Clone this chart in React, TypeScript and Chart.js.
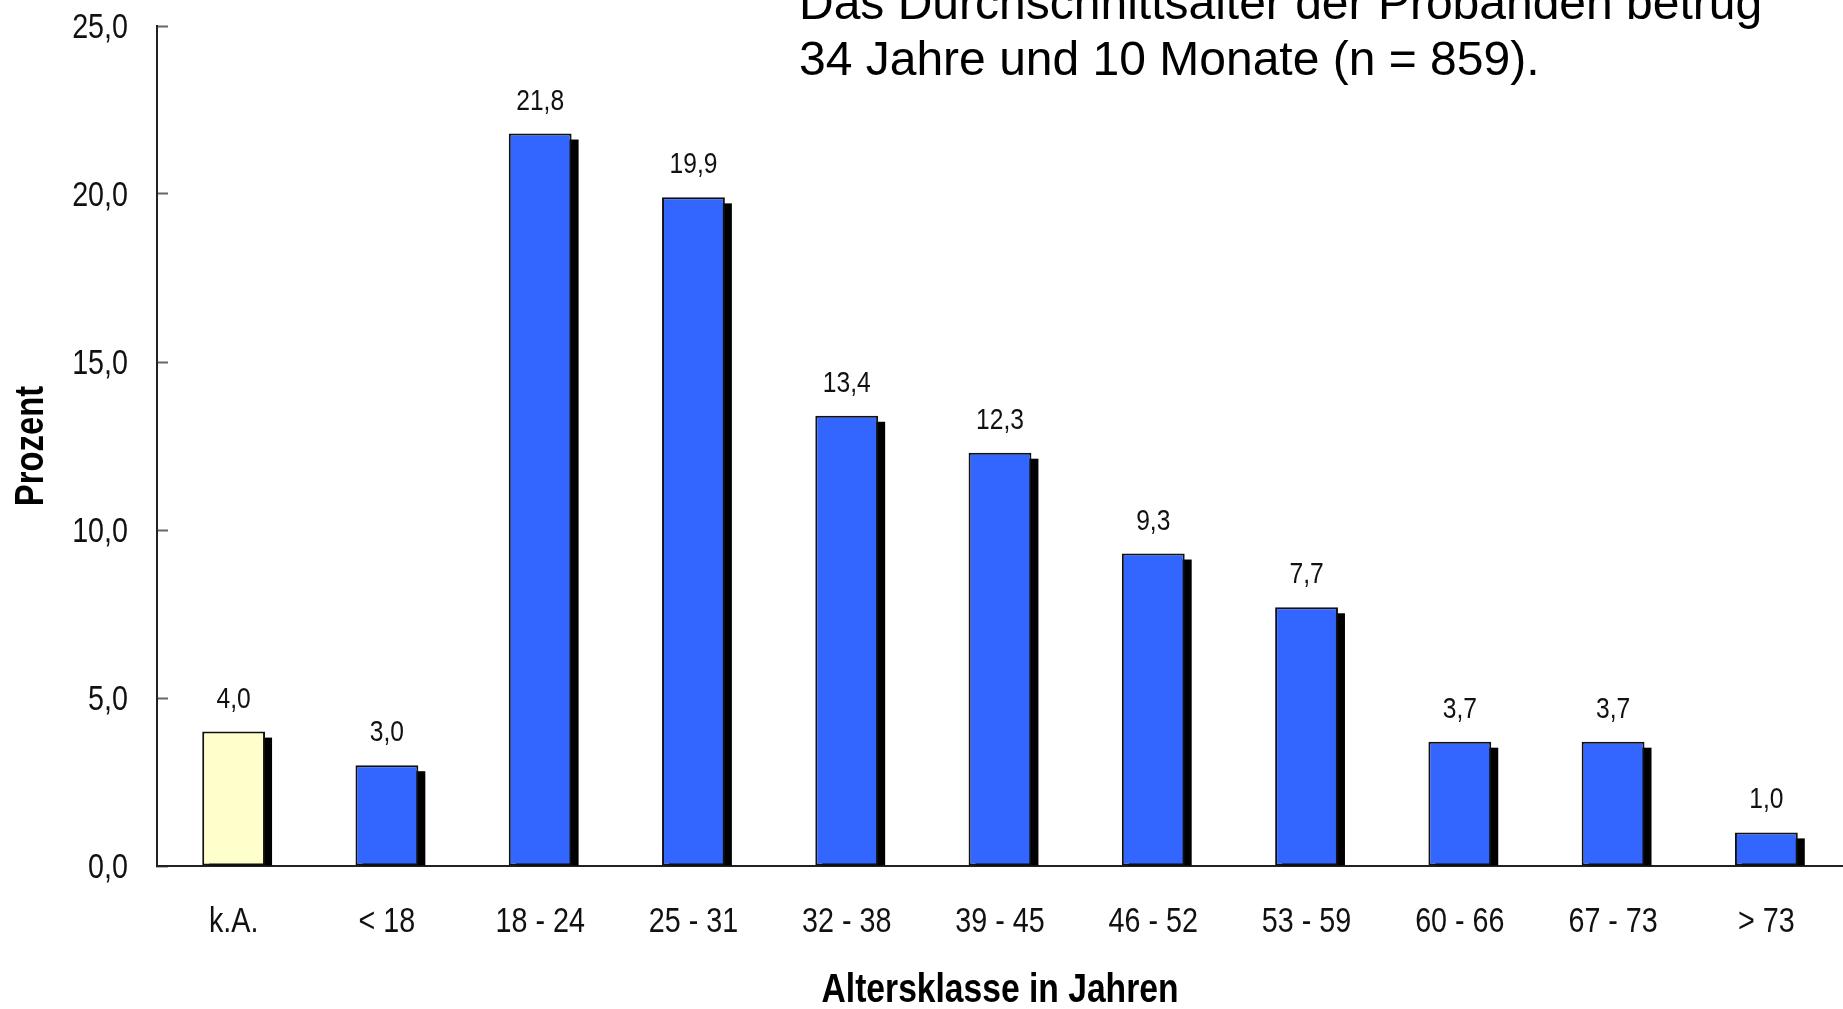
import React, { useEffect, useRef } from "react";
import { Chart, registerables } from "chart.js";

Chart.register(...registerables);

// ---- data ----
const categories = ["k.A.", "< 18", "18 - 24", "25 - 31", "32 - 38", "39 - 45", "46 - 52", "53 - 59", "60 - 66", "67 - 73", "> 73"];
const percentValues = [4.0, 3.0, 21.8, 19.9, 13.4, 12.3, 9.3, 7.7, 3.7, 3.7, 1.0];
const barColors = ["#FFFFCC", "#3366FF", "#3366FF", "#3366FF", "#3366FF", "#3366FF", "#3366FF", "#3366FF", "#3366FF", "#3366FF", "#3366FF"];
const yMin = 0;
const yMax = 25;
const yStep = 5;
const titleLines = ["Das Durchschnittsalter der Probanden betrug", "34 Jahre und 10 Monate (n = 859)."];
const yAxisTitle = "Prozent";
const xAxisTitle = "Altersklasse in Jahren";

const SANS = "'Liberation Sans', Arial, sans-serif";
const NARROW_X = 0.82; // horizontal condensing to mimic Arial Narrow

const fmt = (v: number) => v.toFixed(1).replace(".", ",");

function condensedText(
  ctx: CanvasRenderingContext2D,
  text: string,
  x: number,
  y: number,
  font: string,
  align: CanvasTextAlign,
  color: string,
  rotate = 0
) {
  ctx.save();
  ctx.font = font;
  ctx.fillStyle = color;
  ctx.textAlign = align;
  ctx.textBaseline = "alphabetic";
  ctx.translate(x, y);
  if (rotate) ctx.rotate(rotate);
  ctx.scale(NARROW_X, 1);
  ctx.fillText(text, 0, 0);
  ctx.restore();
}

const shadowPlugin = {
  id: "barShadow",
  beforeDatasetsDraw(chart: any) {
    const ctx = chart.ctx;
    const meta = chart.getDatasetMeta(0);
    ctx.save();
    ctx.fillStyle = "#000000";
    meta.data.forEach((bar: any) => {
      const { x, y, base, width } = bar.getProps(["x", "y", "base", "width"], true);
      const h = base - y - 6;
      if (h > 0) ctx.fillRect(x - width / 2 + 7, y + 6, width, h);
    });
    ctx.restore();
  },
};

const textPlugin = {
  id: "condensedTexts",
  afterDraw(chart: any) {
    const ctx = chart.ctx as CanvasRenderingContext2D;
    const xs = chart.scales.x;
    const ys = chart.scales.y;
    const area = chart.chartArea;
    const tickColor = "#111111";

    // value labels above bars
    const meta = chart.getDatasetMeta(0);
    const data = chart.data.datasets[0].data as number[];
    meta.data.forEach((bar: any, i: number) => {
      const { x, y } = bar.getProps(["x", "y"], true);
      condensedText(ctx, fmt(data[i]), x, y - 24, `30px ${SANS}`, "center", tickColor);
    });

    // y tick labels
    ys.ticks.forEach((t: any) => {
      const py = ys.getPixelForValue(t.value);
      condensedText(ctx, fmt(t.value), 128, py + 12, `35px ${SANS}`, "right", tickColor);
    });

    // x tick labels
    (chart.data.labels as string[]).forEach((lab, i) => {
      const px = xs.getPixelForValue(i);
      condensedText(ctx, lab, px, 932, `35px ${SANS}`, "center", tickColor);
    });

    // axis titles
    condensedText(ctx, xAxisTitle, (area.left + area.right) / 2, 1002, `bold 41px ${SANS}`, "center", "#000000");
    condensedText(ctx, yAxisTitle, 43, (area.top + area.bottom) / 2, `bold 40px ${SANS}`, "center", "#000000", -Math.PI / 2);

    // headline
    ctx.save();
    ctx.font = `48px ${SANS}`;
    ctx.fillStyle = "#000000";
    ctx.textAlign = "left";
    ctx.textBaseline = "alphabetic";
    ctx.fillText(titleLines[0], 799, 19);
    ctx.fillText(titleLines[1], 799, 75);
    ctx.restore();
  },
};

export default function App() {
  const canvasRef = useRef<HTMLCanvasElement | null>(null);

  useEffect(() => {
    document.body.style.margin = "0";
    const canvas = canvasRef.current;
    if (!canvas) return;
    const chart = new Chart(canvas, {
      type: "bar",
      data: {
        labels: categories,
        datasets: [
          {
            data: percentValues,
            backgroundColor: barColors,
            borderColor: "#111111",
            borderWidth: 2,
            borderSkipped: false,
            categoryPercentage: 0.41,
            barPercentage: 1.0,
          },
        ],
      },
      options: {
        animation: false,
        responsive: true,
        maintainAspectRatio: false,
        layout: { padding: { top: 26, left: 0, right: 0, bottom: 0 } },
        plugins: {
          legend: { display: false },
          tooltip: { enabled: false },
          title: { display: false },
        },
        scales: {
          x: {
            offset: true,
            grid: { display: false, drawTicks: false },
            border: { display: true, color: "#222222", width: 2 },
            ticks: { display: false, autoSkip: false },
            title: { display: false },
            afterFit(scale: any) {
              scale.height = 143;
            },
          },
          y: {
            min: yMin,
            max: yMax,
            grid: {
              display: true,
              drawOnChartArea: false,
              drawTicks: true,
              tickLength: -11,
              tickColor: "#666666",
              tickWidth: 2,
            },
            border: { display: true, color: "#222222", width: 2 },
            ticks: { display: false, stepSize: yStep },
            title: { display: false },
            afterFit(scale: any) {
              scale.width = 157;
            },
          },
        },
      },
      plugins: [shadowPlugin, textPlugin],
    });
    return () => chart.destroy();
  }, []);

  return (
    <div style={{ position: "relative", width: "1843px", height: "1009px", background: "#ffffff" }}>
      <canvas ref={canvasRef} />
    </div>
  );
}
